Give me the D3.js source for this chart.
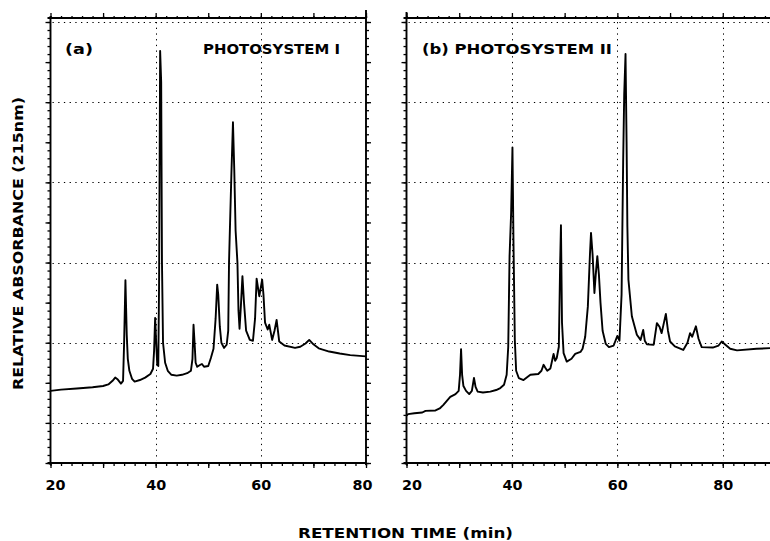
<!DOCTYPE html>
<html>
<head>
<meta charset="utf-8">
<script src="https://cdn.jsdelivr.net/npm/d3@7/dist/d3.min.js"></script>
<style>
  html, body { margin: 0; padding: 0; background: #fff; }
  svg { display: block; }
  text { font-family: "DejaVu Sans", sans-serif; font-weight: bold; fill: #000; }
</style>
</head>
<body>
<script>
// ---------------- DATA ----------------
const xTickLabels = [20, 40, 60, 80];
const yGridValues = [0, 2, 4, 6, 8, 10];
const gridTimesA = [40, 60];
const gridTimesB = [40, 60, 80];

// Panel (a) Photosystem I : retention time (min) and relative absorbance
const timesA = [20.0,22.0,25.0,28.0,30.0,31.0,31.8,32.3,32.8,33.4,33.8,34.0,34.25,34.5,34.7,35.0,35.5,36.0,37.0,38.0,39.0,39.5,39.7,39.9,40.1,40.3,40.5,40.65,40.85,41.05,41.2,41.4,41.8,42.3,43.0,44.0,45.0,46.0,46.7,47.0,47.2,47.4,47.6,47.9,48.5,48.8,49.2,50.0,50.5,51.0,51.4,51.7,51.9,52.2,52.5,53.0,53.5,53.8,53.95,54.1,54.4,54.7,54.95,55.2,55.55,55.75,55.95,56.2,56.5,56.8,57.2,57.9,58.5,58.9,59.2,59.7,60.25,60.5,60.8,61.3,61.6,62.15,62.6,63.0,63.5,64.5,66.5,67.5,68.5,69.2,70.0,71.0,73.0,75.0,77.0,80.0];
const absA   = [0.80,0.83,0.86,0.89,0.92,0.96,1.05,1.13,1.08,0.98,1.05,2.0,3.56,2.2,1.6,1.3,1.1,1.03,1.07,1.13,1.22,1.35,1.8,2.62,2.0,1.45,1.42,3.5,9.28,8.5,4.0,2.0,1.5,1.3,1.2,1.18,1.2,1.24,1.3,1.6,2.45,2.0,1.5,1.4,1.45,1.47,1.4,1.42,1.62,1.85,2.6,3.45,3.2,2.4,2.0,1.87,1.95,2.3,4.0,4.75,6.2,7.5,6.3,4.8,4.0,2.8,2.35,2.9,3.66,3.0,2.3,2.07,2.05,2.6,3.6,3.16,3.57,3.2,2.5,2.33,2.45,2.07,2.3,2.57,2.03,1.93,1.87,1.9,1.98,2.07,1.96,1.86,1.78,1.73,1.69,1.66];

// Panel (b) Photosystem II
const timesB = [20.0,20.3,21.5,23.0,23.6,25.5,26.3,27.0,28.3,29.3,29.9,30.15,30.35,30.55,30.8,31.3,31.9,32.4,32.8,33.1,33.5,34.5,35.9,37.0,37.8,38.5,39.0,39.3,39.55,39.85,40.1,40.3,40.4,40.55,40.8,41.3,42.2,43.0,43.5,45.0,45.6,46.0,46.3,46.7,47.3,47.7,47.9,48.2,48.5,48.9,49.15,49.3,49.5,49.8,50.4,51.3,52.0,53.0,53.4,53.9,54.4,54.8,55.0,55.3,55.65,55.9,56.2,56.5,56.8,57.2,57.8,58.4,59.3,60.0,60.4,60.8,61.1,61.3,61.55,61.75,61.9,62.1,62.75,63.7,64.4,64.9,65.2,65.6,66.9,67.5,68.0,68.4,69.2,69.6,70.0,70.9,72.5,73.3,73.8,74.2,74.9,75.4,76.0,78.1,79.2,79.8,80.5,81.4,82.7,86.4,90.0];
const absB   = [0.18,0.22,0.24,0.26,0.30,0.31,0.36,0.45,0.65,0.72,0.80,1.2,1.84,1.2,0.92,0.80,0.72,0.80,1.12,0.90,0.78,0.76,0.78,0.82,0.87,0.95,1.2,1.9,4.16,5.25,6.87,4.45,3.5,2.07,1.3,1.12,1.07,1.15,1.2,1.22,1.3,1.45,1.38,1.3,1.36,1.6,1.72,1.55,1.62,1.9,4.0,4.93,2.5,1.74,1.53,1.6,1.72,1.77,1.85,2.15,2.9,4.2,4.74,4.2,3.24,3.7,4.16,3.7,3.0,2.3,1.97,1.89,1.93,2.17,2.05,3.2,6.5,8.2,9.2,7.0,4.9,3.57,2.66,2.2,2.07,2.32,2.05,1.96,1.95,2.49,2.4,2.24,2.72,2.3,2.03,1.91,1.82,2.0,2.24,2.15,2.41,2.1,1.89,1.88,1.93,2.03,1.95,1.85,1.81,1.85,1.87];

// ---------------- LAYOUT ----------------
const W = 770, H = 541;
const yTop = 18, yBottom = 463;
const svg = d3.select("body").append("svg").attr("width", W).attr("height", H);

const y = d3.scaleLinear().domain([-1, 10]).range([yBottom, 22]);
const yMinor = d3.range(-1, 10.01, 0.2).map(v => +v.toFixed(2));
const yMajor = d3.range(-1, 10.01, 1);

const panels = [
  { id: "a", times: timesA, abs: absA, domain: [20, 80], range: [50.5, 366], grid: gridTimesA,
    rightFrame: true, labelShift: {20: 4.5, 80: -4},
    titles: [{text: "(a)", x: 65, len: 28}, {text: "PHOTOSYSTEM I", x: 203, len: 137}] },
  { id: "b", times: timesB, abs: absB, domain: [20, 90], range: [406.5, 775.5], grid: gridTimesB,
    rightFrame: false, labelShift: {20: 5},
    titles: [{text: "(b) PHOTOSYSTEM II", x: 422, len: 190}] }
];

panels.forEach(p => {
  const x = d3.scaleLinear().domain(p.domain).range(p.range);
  const g = svg.append("g");
  const x0 = x(p.domain[0]);
  const x1 = x(p.domain[1]);
  const xMax = Math.min(x1, W + 5);

  const clipId = "clip-" + p.id;
  svg.append("clipPath").attr("id", clipId).append("rect")
    .attr("x", x0).attr("y", yTop).attr("width", x1 - x0).attr("height", yBottom - yTop);

  // dotted gridlines
  const grid = g.append("g").attr("stroke", "#000").attr("stroke-width", 1)
    .attr("stroke-dasharray", "1.3,4.4");
  grid.selectAll("line.h").data(yGridValues).join("line").attr("class", "h")
    .attr("x1", x0 + 2).attr("x2", x1 - 1)
    .attr("y1", d => Math.round(y(d)) + 0.5).attr("y2", d => Math.round(y(d)) + 0.5);
  grid.selectAll("line.v").data(p.grid).join("line").attr("class", "v")
    .attr("x1", d => Math.round(x(d)) + 0.5).attr("x2", d => Math.round(x(d)) + 0.5)
    .attr("y1", yTop + 4).attr("y2", yBottom - 2);

  // trace
  const line = d3.line().x(d => x(d[0])).y(d => y(d[1])).curve(d3.curveLinear);
  g.append("path")
    .datum(p.times.map((t, i) => [t, p.abs[i]]))
    .attr("clip-path", `url(#${clipId})`)
    .attr("fill", "none").attr("stroke", "#000").attr("stroke-width", 1.9)
    .attr("stroke-linejoin", "round")
    .attr("d", line);

  function axisGroup(axis, tf) {
    const a = g.append("g").attr("transform", tf).call(axis);
    a.select(".domain").remove();
    a.selectAll("text").remove();
    a.selectAll("line").attr("stroke", "#000").attr("stroke-width", 1.3);
    return a;
  }
  const xMinorVals = d3.range(p.domain[0], p.domain[1] + 0.01, 2);
  const xMajorVals = d3.range(p.domain[0], p.domain[1] + 0.01, 10);

  axisGroup(d3.axisBottom(x).tickValues(xMinorVals).tickSize(3), `translate(0,${yBottom})`);
  axisGroup(d3.axisBottom(x).tickValues(xMajorVals).tickSize(5), `translate(0,${yBottom})`);
  axisGroup(d3.axisTop(x).tickValues(xMinorVals).tickSize(2), `translate(0,${yTop})`);
  axisGroup(d3.axisTop(x).tickValues(xMajorVals).tickSize(5), `translate(0,${yTop})`);
  axisGroup(d3.axisLeft(y).tickValues(yMinor).tickSize(3), `translate(${x0},0)`);
  axisGroup(d3.axisLeft(y).tickValues(yMajor).tickSize(5), `translate(${x0},0)`);
  if (p.rightFrame) {
    axisGroup(d3.axisRight(y).tickValues(yMinor).tickSize(3), `translate(${x1},0)`);
    axisGroup(d3.axisRight(y).tickValues(yMajor).tickSize(5), `translate(${x1},0)`);
  }

  // frame
  const frame = g.append("g").attr("stroke", "#000").attr("stroke-width", 1.9).attr("fill", "none");
  frame.append("line").attr("x1", x0 - 3).attr("x2", xMax).attr("y1", yBottom).attr("y2", yBottom);
  frame.append("line").attr("x1", x0 - 3).attr("x2", xMax).attr("y1", yTop).attr("y2", yTop);
  frame.append("line").attr("x1", x0).attr("x2", x0).attr("y1", p.id === "a" ? yTop - 2 : yTop - 6).attr("y2", yBottom + 2);
  if (p.rightFrame) {
    frame.append("line").attr("x1", x1).attr("x2", x1).attr("y1", yTop - 8).attr("y2", yBottom + 2);
  }

  // x tick labels
  const lab = g.append("g").attr("transform", `translate(0,${yBottom})`)
    .call(d3.axisBottom(x).tickValues(xTickLabels).tickSize(0).tickPadding(0).tickFormat(d3.format("d")));
  lab.select(".domain").remove();
  lab.selectAll("text")
    .attr("font-size", 14.5).attr("font-family", "DejaVu Sans").attr("font-weight", "bold")
    .attr("dy", null).attr("y", 27)
    .attr("dx", d => p.labelShift[d] || 0)
    .attr("textLength", 20).attr("lengthAdjust", "spacingAndGlyphs");

  // panel titles
  p.titles.forEach(t => {
    g.append("text").attr("x", t.x).attr("y", 54).attr("font-size", 14)
      .attr("textLength", t.len).attr("lengthAdjust", "spacingAndGlyphs").text(t.text);
  });
});

// axis titles
svg.append("text").attr("x", 298).attr("y", 538).attr("font-size", 13.5)
  .attr("textLength", 215).attr("lengthAdjust", "spacingAndGlyphs")
  .text("RETENTION TIME (min)");
svg.append("text").attr("transform", "translate(22.5,390) rotate(-90)")
  .attr("x", 0).attr("y", 0).attr("font-size", 13.5)
  .attr("textLength", 293).attr("lengthAdjust", "spacingAndGlyphs")
  .text("RELATIVE ABSORBANCE (215nm)");
</script>
</body>
</html>
